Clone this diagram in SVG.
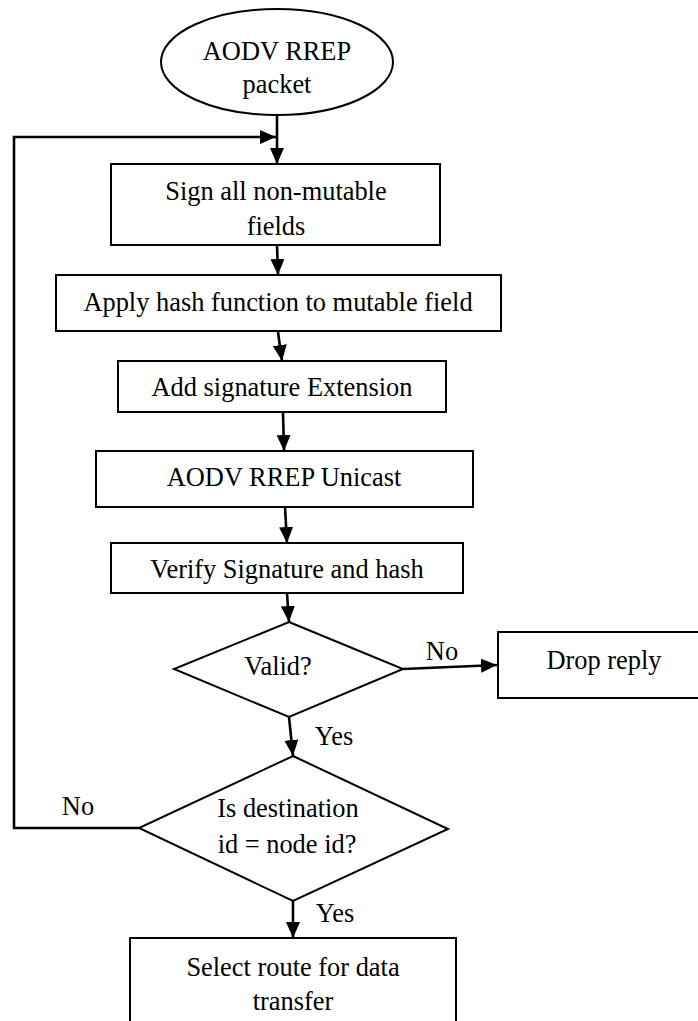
<svg xmlns="http://www.w3.org/2000/svg" width="698" height="1021" viewBox="0 0 698 1021">
<style>
.shape{fill:#fff;stroke:#000;stroke-width:2}
.conn{fill:none;stroke:#000;stroke-width:2.6}
.t{font-family:'Liberation Serif','Times New Roman',Times,serif;font-size:26.4px;fill:#000;text-anchor:middle}
</style>
<defs>
<marker id="arr" markerUnits="userSpaceOnUse" markerWidth="16" markerHeight="14" refX="16" refY="7" orient="auto">
<path d="M0,0 L16,7 L0,14 z" fill="#000"/>
</marker>
</defs>
<rect width="698" height="1021" fill="#fff"/>
<g id="connectors">
<line class="conn" x1="277" y1="115" x2="277" y2="164" marker-end="url(#arr)"/>
<polyline class="conn" points="139,828 14,828 14,137 276,137" marker-end="url(#arr)"/>
<line class="conn" x1="277" y1="245" x2="278" y2="275" marker-end="url(#arr)"/>
<line class="conn" x1="278" y1="332" x2="282" y2="361" marker-end="url(#arr)"/>
<line class="conn" x1="283" y1="412" x2="284" y2="451" marker-end="url(#arr)"/>
<line class="conn" x1="285" y1="507" x2="287" y2="543" marker-end="url(#arr)"/>
<line class="conn" x1="287" y1="593" x2="289" y2="622" marker-end="url(#arr)"/>
<line class="conn" x1="403" y1="669" x2="497" y2="665" marker-end="url(#arr)"/>
<line class="conn" x1="289" y1="717" x2="293" y2="756" marker-end="url(#arr)"/>
<line class="conn" x1="293" y1="901" x2="293" y2="938" marker-end="url(#arr)"/>
<text class="t" x="442" y="660">No</text>
<text class="t" x="334" y="745">Yes</text>
<text class="t" x="78" y="815">No</text>
<text class="t" x="335" y="922">Yes</text>
</g>
<g id="start">
<ellipse class="shape" cx="277" cy="62" rx="116" ry="53"/>
<text class="t" x="277" y="60">AODV RREP</text>
<text class="t" x="277" y="93">packet</text>
</g>
<g id="sign">
<rect class="shape" x="111" y="164" width="329" height="81"/>
<text class="t" x="276" y="200">Sign all non-mutable</text>
<text class="t" x="276" y="235">fields</text>
</g>
<g id="hash">
<rect class="shape" x="56" y="275" width="445" height="56"/>
<text class="t" x="278" y="311">Apply hash function to mutable field</text>
</g>
<g id="addsig">
<rect class="shape" x="118" y="361" width="328" height="51"/>
<text class="t" x="282" y="396">Add signature Extension</text>
</g>
<g id="unicast">
<rect class="shape" x="96" y="451" width="377" height="56"/>
<text class="t" x="284" y="486">AODV RREP Unicast</text>
</g>
<g id="verify">
<rect class="shape" x="111" y="543" width="352" height="50"/>
<text class="t" x="287" y="578">Verify Signature and hash</text>
</g>
<g id="valid">
<polygon class="shape" points="289,622 403,669 289,717 174,669"/>
<text class="t" x="278" y="675">Valid?</text>
</g>
<g id="drop">
<rect class="shape" x="498" y="632" width="210" height="66"/>
<text class="t" x="604" y="669">Drop reply</text>
</g>
<g id="dest">
<polygon class="shape" points="293,756 448,829 293,901 139,828"/>
<text class="t" x="288" y="817">Is destination</text>
<text class="t" x="287" y="853">id = node id?</text>
</g>
<g id="select">
<rect class="shape" x="130" y="938" width="326" height="95"/>
<text class="t" x="293" y="976">Select route for data</text>
<text class="t" x="293" y="1010">transfer</text>
</g>
</svg>
